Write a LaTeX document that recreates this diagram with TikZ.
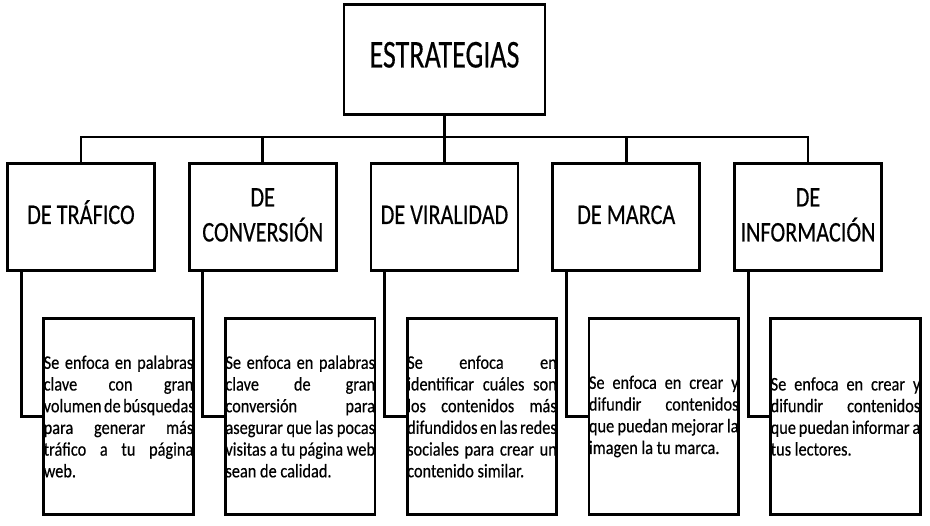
\documentclass[tikz,border=0pt]{standalone}
\usepackage{fontspec}
\setmainfont{Carlito}[FakeBold=0.45]
\usepackage{graphicx}
\usetikzlibrary{positioning,calc}

\newcommand{\fila}[1]{\hbox to\linewidth{#1}}
\newcommand{\ultima}[1]{\hbox to\linewidth{#1\hfil}}
\newcommand{\desctext}[1]{\scalebox{0.85}[1]{\parbox{176pt}{\fontsize{19.2}{21.7}\selectfont #1}}}
\newcommand{\angosto}[2]{\scalebox{#1}[1]{\begin{tabular}{@{}c@{}}#2\end{tabular}}}

\begin{document}
\begin{tikzpicture}[x=1pt,y=-1pt,line width=2.8pt,
  raiz/.style={draw,minimum width=201pt,minimum height=110pt,inner sep=0pt,font=\fontsize{39.5}{40}\selectfont},
  tipo/.style={draw,minimum width=147pt,minimum height=107pt,inner sep=0pt,font=\fontsize{28.5}{35}\selectfont},
  desc/.style={draw,minimum width=148pt,minimum height=196pt,inner sep=0pt}]
\useasboundingbox (0,0) rectangle (930,526);
% raiz
\node[raiz] (estr) at (444.5,59.5) {\angosto{0.71}{ESTRATEGIAS}};
% tipos de estrategia
\node[tipo] (t1) at (81,217) {\angosto{0.78}{DE TRÁFICO}};
\node[tipo] (t2) at (262.75,217) {\angosto{0.78}{DE\\CONVERSIÓN}};
\node[tipo] (t3) at (444.5,217) {\angosto{0.78}{DE VIRALIDAD}};
\node[tipo] (t4) at (626.25,217) {\angosto{0.78}{DE MARCA}};
\node[tipo] (t5) at (808,217) {\angosto{0.78}{DE\\INFORMACIÓN}};
% descripciones
\node[desc] (d1) at (118.5,416.5) {\desctext{\fila{Se enfoca en palabras}\fila{clave con gran}\fila{volumen de búsquedas}\fila{para generar más}\fila{tráfico a tu página}\ultima{web.}}};
\node[desc] (d2) at (300.25,416.5) {\desctext{\fila{Se enfoca en palabras}\fila{clave de gran}\fila{conversión para}\fila{asegurar que las pocas}\fila{visitas a tu página web}\ultima{sean de calidad.}}};
\node[desc] (d3) at (482,416.5) {\desctext{\fila{Se enfoca en}\fila{identificar cuáles son}\fila{los contenidos más}\fila{difundidos en las redes}\fila{sociales para crear un}\ultima{contenido similar.}}};
\node[desc] (d4) at (663.75,416.5) {\desctext{\fila{Se enfoca en crear y}\fila{difundir contenidos}\fila{que puedan mejorar la}\ultima{imagen la tu marca.}}};
\node[desc] (d5) at (845.5,416.5) {\desctext{\fila{Se enfoca en crear y}\fila{difundir contenidos}\fila{que puedan informar a}\ultima{tus lectores.}}};
% conectores
\coordinate (bus) at (444.5,137);
\draw (estr.south) -- (bus);
\draw (t1.north) |- (bus) -| (t5.north);
\draw (t2.north) -- (t2.north |- bus);
\draw (t3.north) -- (t3.north |- bus);
\draw (t4.north) -- (t4.north |- bus);
\draw ([xshift=15pt]t1.south west) |- (d1.west);
\draw ([xshift=15pt]t2.south west) |- (d2.west);
\draw ([xshift=15pt]t3.south west) |- (d3.west);
\draw ([xshift=15pt]t4.south west) |- (d4.west);
\draw ([xshift=15pt]t5.south west) |- (d5.west);
\end{tikzpicture}
\end{document}
